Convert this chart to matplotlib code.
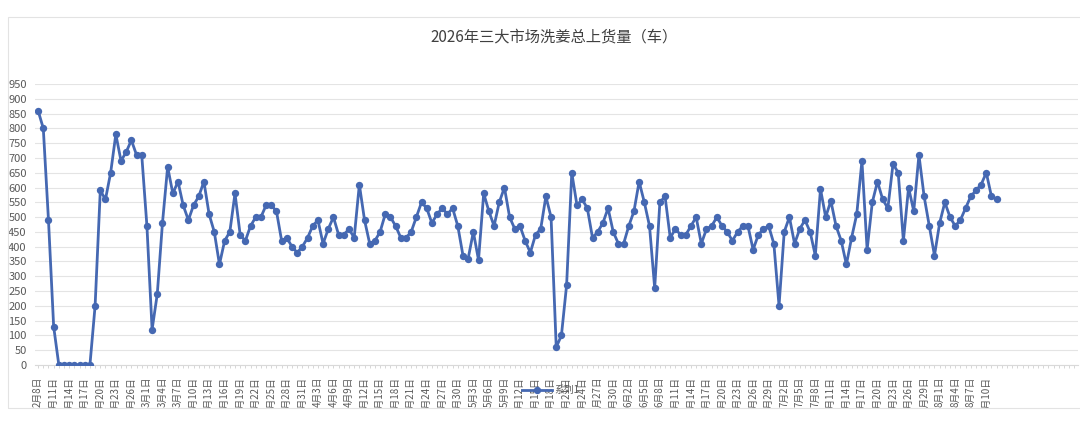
import matplotlib
matplotlib.use("Agg")
import matplotlib.pyplot as plt
import matplotlib.patches as patches
from matplotlib.transforms import Bbox, TransformedBbox
from matplotlib.lines import Line2D
import pandas as pd

plt.rcParams['font.family'] = ['Noto Sans CJK SC', 'DejaVu Sans']

title = '2026年三大市场洗姜总上货量（车）'
series_name = '系列1'

# one category per day, 2月8日 .. 8月12日
dates = pd.date_range('2026-02-08', '2026-08-12', freq='D')
categories = [f'{d.month}月{d.day}日' for d in dates]

values = [
    860, 800, 490, 130, 0, 0, 0, 0, 0, 0, 0,
    200, 590, 560, 650, 780, 690, 720, 760, 710, 710,
    470, 120, 240, 480, 670, 580, 620, 540, 490, 540,
    570, 620, 510, 450, 340, 420, 450, 580, 440, 420,
    470, 500, 500, 540, 540, 520, 420, 430, 400, 380,
    400, 430, 470, 490, 410, 460, 500, 440, 440, 460,
    430, 610, 490, 410, 420, 450, 510, 500, 470, 430,
    430, 450, 500, 550, 530, 480, 510, 530, 510, 530,
    470, 370, 360, 450, 355, 580, 520, 470, 550, 600,
    500, 460, 470, 420, 380, 440, 460, 570, 500, 60,
    100, 270, 650, 540, 560, 530, 430, 450, 480, 530,
    450, 410, 410, 470, 520, 620, 550, 470, 260, 550,
    570, 430, 460, 440, 440, 470, 500, 410, 460, 470,
    500, 470, 450, 420, 450, 470, 470, 390, 440, 460,
    470, 410, 200, 450, 500, 410, 460, 490, 450, 370,
    595, 500, 555, 470, 420, 340, 430, 510, 690, 390,
    550, 620, 560, 530, 680, 650, 420, 600, 520, 710,
    570, 470, 370, 480, 550, 500, 470, 490, 530, 570,
    590, 610, 650, 570, 560,
]

label_step = 3
n_axis_slots = 201   # the axis runs past the last data point
y_ticks = list(range(0, 951, 50))

line_color = '#4568B2'
text_gray = '#595959'

W, H = 1080, 441
fig = plt.figure(figsize=(W / 100, H / 100), dpi=100)
ax = fig.add_axes([35 / W, 1 - 365 / H, (1078 - 35) / W, (365 - 84) / H])

x = list(range(len(values)))
ax.plot(x, values, color=line_color, lw=2.0, marker='o', ms=5.3,
        markeredgewidth=0, zorder=3)

ax.set_ylim(0, 950)
ax.set_xlim(-0.6, n_axis_slots - 0.3)
ax.set_yticks(y_ticks)
ax.yaxis.grid(True, color='#E4E4E4', lw=0.8)
ax.set_axisbelow(True)

tick_pos = list(range(0, len(values), label_step))
ax.set_xticks(tick_pos)
ax.set_xticklabels([categories[i] for i in tick_pos], rotation=90,
                   ha='center', va='top')
ax.set_xticks(range(0, n_axis_slots), minor=True)

ax.tick_params(axis='y', length=0, labelsize=8, labelcolor=text_gray, pad=6)
ax.tick_params(axis='x', which='both', direction='out', length=2.5,
               color='#D0D0D0', width=0.6)
ax.tick_params(axis='x', labelsize=7, labelcolor=text_gray, pad=6)

for s in ['left', 'right', 'top']:
    ax.spines[s].set_visible(False)
ax.spines['bottom'].set_color('#D9D9D9')
ax.spines['bottom'].set_linewidth(0.8)

# date labels get cut off by the chart border at the bottom
clip = TransformedBbox(Bbox([[0, 33 / H], [1, 1]]), fig.transFigure)
for lbl in ax.get_xticklabels():
    lbl.set_clip_box(clip)
    lbl.set_clip_on(True)

fig.text(554 / W, 1 - 37 / H, title, ha='center', va='center',
         fontsize=11, color='#404040')

# light chart border
fig.patches.append(patches.Rectangle((8 / W, 33 / H), 1.2, (424.5 - 33) / H,
                                     transform=fig.transFigure, fill=False,
                                     edgecolor='#E3E3E3', lw=0.8))

handle = Line2D([], [], color=line_color, lw=2.0, marker='o', ms=5.3,
                markeredgewidth=0)
fig.legend([handle], [series_name], loc='center',
           bbox_to_anchor=(551 / W, 1 - 390 / H), frameon=False,
           fontsize=7, labelcolor=text_gray, handlelength=3,
           handletextpad=0.3, borderpad=0)

fig.savefig('out.png', dpi=100)
